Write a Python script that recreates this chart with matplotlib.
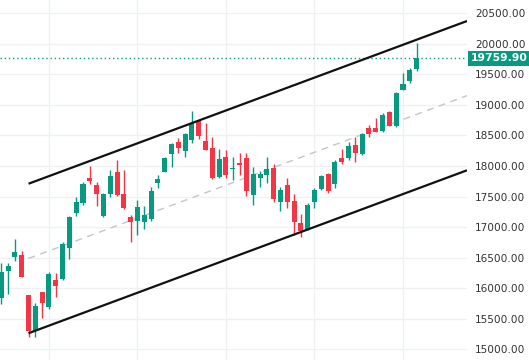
import matplotlib
matplotlib.use("Agg")
import matplotlib.pyplot as plt
import matplotlib.transforms as mtransforms
import numpy as np

# ---- data ----
opens = [15845, 16286, 16516, 16543, 15889, 15300, 15938, 15697, 16134, 16146,
         16663, 17236, 17399, 17799, 17689, 17182, 17547, 17902, 17542, 17165,
         17105, 17088, 17133, 17727, 17902, 18201, 18393, 18250, 18426, 18737,
         18409, 18290, 17828, 18147, 17956, 18057, 18136, 17530, 17809, 17861,
         17967, 17416, 17689, 17427, 17067, 16961, 17416, 17619, 17869, 17705,
         18136, 18123, 18344, 18196, 18622, 18617, 18578, 18889, 18660, 19244,
         19396, 19583]
highs = [16412, 16417, 16805, 16614, 15895, 15766, 15946, 16273, 16244, 16761,
         17187, 17493, 17738, 18000, 17743, 17558, 17935, 18098, 17935, 17198,
         17444, 17345, 17656, 17853, 18152, 18381, 18453, 18545, 18900, 18745,
         18699, 18480, 18278, 18267, 18147, 18213, 18213, 17984, 17918, 18152,
         18025, 17661, 17804, 17542, 17210, 17399, 17640, 17861, 17881, 18098,
         18278, 18398, 18470, 18535, 18671, 18781, 18872, 18900, 19216, 19527,
         19599, 20008]
lows = [15741, 15913, 16450, 16180, 15201, 15200, 15517, 15660, 15864, 16134,
        16478, 17182, 17362, 17705, 17350, 17165, 17498, 17509, 17291, 16761,
        16863, 16961, 17100, 17645, 17900, 17989, 18218, 18147, 18381, 18437,
        18255, 17787, 17799, 17809, 17771, 17853, 17501, 17362, 17661, 17722,
        17416, 17264, 17313, 16871, 16843, 16953, 17318, 17615, 17553, 17640,
        18041, 18098, 18070, 18180, 18480, 18557, 18561, 18655, 18643, 19240,
        19354, 19560]
closes = [16270, 16368, 16597, 16188, 15300, 15709, 15750, 16232, 16041, 16723,
          17170, 17411, 17710, 17755, 17547, 17542, 17836, 17525, 17313, 17088,
          17324, 17198, 17591, 17787, 18126, 18360, 18300, 18524, 18709, 18496,
          18262, 17804, 18115, 17858, 17972, 18016, 17591, 17869, 17864, 17951,
          17460, 17607, 17416, 17088, 16941, 17362, 17607, 17836, 17596, 18070,
          18061, 18327, 18208, 18519, 18529, 18561, 18835, 18660, 19200, 19347,
          19571, 19759.9]
last_price = 19759.9

# channel anchors (bar index, price)
channel_x = [4, 68.4]
upper_line = [17710, 20373]
lower_line = [15263, 17930]
middle_line = [16487, 19151]

y_ticks = [15000, 15500, 16000, 16500, 17000, 17500, 18000, 18500, 19000, 19500, 20000, 20500]
x_grid = [7, 20, 33, 46, 59]

GREEN = "#089981"
RED = "#F23645"

fig = plt.figure(figsize=(5.29, 3.6), dpi=100)
ax = fig.add_axes([0, 0, 467 / 529, 1])

idx = np.arange(len(opens))
o = np.array(opens, float)
c = np.array(closes, float)
h = np.array(highs, float)
l = np.array(lows, float)
up = c >= o
colors = np.where(up, GREEN, RED)

ax.vlines(idx, l, h, colors=colors, linewidth=1.0, zorder=3)
bottoms = np.minimum(o, c)
heights = np.maximum(np.abs(c - o), 12)
ax.bar(idx, heights, bottom=bottoms, width=0.74, color=colors, linewidth=0, zorder=4)

# channel
ax.plot(channel_x, upper_line, color="#111111", lw=1.6, zorder=5, solid_capstyle="butt")
ax.plot(channel_x, lower_line, color="#111111", lw=1.6, zorder=5, solid_capstyle="butt")
ax.plot(channel_x, middle_line, color="#c3c5cb", lw=1.0, ls=(0, (5, 4)), zorder=2)

# last price line
ax.axhline(last_price, color=GREEN, lw=1.0, ls=(0, (1, 2)), zorder=2)

ax.set_xlim(-0.19, 68.4)
ax.set_ylim(14825, 20717)

ax.set_yticks(y_ticks)
ax.set_yticklabels([f"{v:.2f}" for v in y_ticks])
ax.yaxis.tick_right()
ax.tick_params(axis="y", length=0, pad=6, labelsize=7.6, labelcolor="#333333")
ax.set_xticks(x_grid)
ax.tick_params(axis="x", length=0, labelbottom=False)
ax.grid(True, color="#eef0f3", lw=1.0, zorder=0)
ax.set_axisbelow(True)
for s in ax.spines.values():
    s.set_visible(False)

trans = mtransforms.blended_transform_factory(ax.transAxes, ax.transData)
ax.text(1.0 + 4 / 467, last_price, f"{last_price:.2f}", transform=trans,
        ha="left", va="center", color="white", fontsize=7.8, fontweight="bold",
        bbox=dict(boxstyle="square,pad=0.25", fc=GREEN, ec="none"), zorder=10, clip_on=False)

fig.savefig("out.png", dpi=100)
